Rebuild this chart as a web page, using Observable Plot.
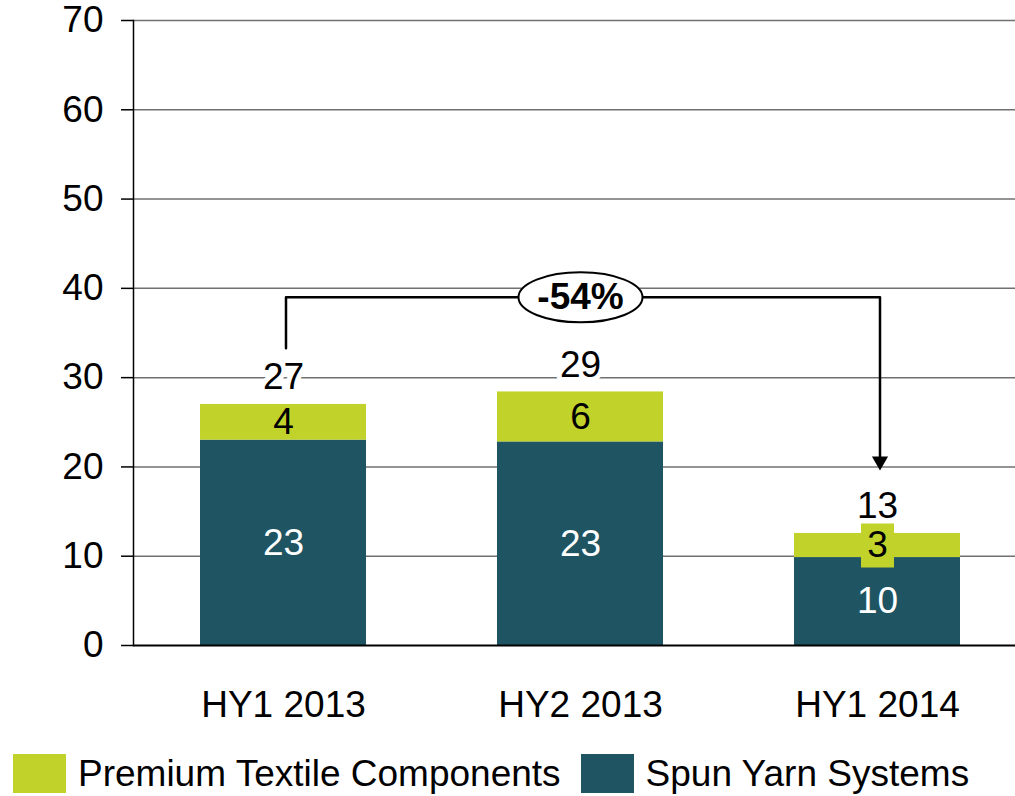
<!DOCTYPE html>
<html>
<head>
<meta charset="utf-8">
<script src="https://cdn.jsdelivr.net/npm/d3@7"></script>
<script src="https://cdn.jsdelivr.net/npm/@observablehq/plot@0.6"></script>
<style>
  html, body { margin: 0; padding: 0; background: #fff; }
  body { width: 1015px; height: 796px; overflow: hidden; font-family: "Liberation Sans", Arial, sans-serif; }
  #legend { display: flex; align-items: center; height: 39px; margin-top: 14px; padding-left: 13px; font-size: 37px; color: #000; }
  .sw { width: 53px; height: 39px; display: inline-block; margin-right: 12px; }
  .item { display: flex; align-items: center; margin-right: 20px; white-space: nowrap; }
</style>
</head>
<body>
<div id="chart"></div>
<div id="legend"></div>
<script>
// ---- data ----
const categories = ["HY1 2013", "HY2 2013", "HY1 2014"];
const spunValues = [23.0, 22.8, 9.85];
const premiumValues = [4.0, 5.6, 2.7];
const spunLabels = ["23", "23", "10"];
const premiumLabels = ["4", "6", "3"];
const totalLabels = ["27", "29", "13"];
const boxedPremium = ["HY1 2014"];           // premium label drawn on a box
const seriesNames = ["Premium Textile Components", "Spun Yarn Systems"];
const seriesColors = ["#c1d22b", "#1f5463"];
const yTicks = [0, 10, 20, 30, 40, 50, 60, 70];
// change annotation
const changeFrom = "HY1 2013", changeTo = "HY1 2014", changeAt = "HY2 2013";
const changeLabel = "-54%";
const bracketLevel = 39, bracketStart = 33.3, bracketEnd = 20.65;

// ---- tables ----
const table = [];
categories.forEach((c, i) => {
  table.push({cat: c, series: seriesNames[1], value: spunValues[i]});
  table.push({cat: c, series: seriesNames[0], value: premiumValues[i]});
});
const spunText = categories.map((c, i) => ({cat: c, y: spunValues[i] / 2, t: spunLabels[i]}));
const premText = categories.map((c, i) => ({cat: c, y: spunValues[i] + premiumValues[i] / 2, t: premiumLabels[i]}));
const totText = categories.map((c, i) => ({cat: c, y: spunValues[i] + premiumValues[i], t: totalLabels[i]}));
const boxes = premText.filter(d => boxedPremium.includes(d.cat));
const bracket = [
  {cat: changeFrom, y: bracketStart},
  {cat: changeFrom, y: bracketLevel},
  {cat: changeTo, y: bracketLevel},
  {cat: changeTo, y: bracketEnd}
];

// custom symbols
const K = 0.5523;
const ellipse = {draw(ctx) {
  const rx = 62, ry = 25;
  ctx.moveTo(rx, 0);
  ctx.bezierCurveTo(rx, ry * K, rx * K, ry, 0, ry);
  ctx.bezierCurveTo(-rx * K, ry, -rx, ry * K, -rx, 0);
  ctx.bezierCurveTo(-rx, -ry * K, -rx * K, -ry, 0, -ry);
  ctx.bezierCurveTo(rx * K, -ry, rx, -ry * K, rx, 0);
  ctx.closePath();
}};
const labelBox = {draw(ctx) {
  ctx.rect(-16.5, -22, 33, 44);
}};

const FS = 37;
const chart = Plot.plot({
  width: 1015,
  height: 740,
  marginTop: 20,
  marginBottom: 95,
  marginLeft: 133,
  marginRight: 0,
  style: {fontFamily: "'Liberation Sans', Arial, sans-serif", fontSize: FS + "px", color: "#000", background: "#fff"},
  x: {domain: categories, range: [133.5, 1025.7], paddingInner: 0.4418, paddingOuter: 0.2209, label: null},
  y: {domain: [0, 70], label: null},
  color: {domain: seriesNames, range: seriesColors},
  marks: [
    Plot.gridY(yTicks.filter(d => d > 0), {stroke: "#707070", strokeOpacity: 1, strokeWidth: 1.5}),
    Plot.barY(table, {x: "cat", y: "value", fill: "series", order: [seriesNames[1], seriesNames[0]]}),
    Plot.ruleY([0], {stroke: "#000", strokeWidth: 2}),
    Plot.frame({anchor: "left", stroke: "#000", strokeWidth: 1.5}),
    Plot.axisY({ticks: yTicks, tickSize: 12, tickPadding: 18, fontSize: FS, stroke: "#000", strokeWidth: 1.5, label: null}),
    Plot.axisX({tickSize: 0, tickPadding: 45, fontSize: FS, label: null}),
    Plot.text(totText, {x: "cat", y: "y", text: "t", fill: "#000", fontSize: FS, dy: -27, stroke: "#fff", strokeWidth: 10}),
    Plot.dot(boxes, {x: "cat", y: "y", symbol: labelBox, r: 5, fill: seriesColors[0], stroke: "none"}),
    Plot.text(spunText, {x: "cat", y: "y", text: "t", fill: "#fff", fontSize: FS}),
    Plot.text(premText, {x: "cat", y: "y", text: "t", fill: "#000", fontSize: FS}),
    Plot.line(bracket, {x: "cat", y: "y", stroke: "#000", strokeWidth: 2.5, dx: 2.5, curve: "linear"}),
    Plot.dot([bracket[3]], {x: "cat", y: "y", symbol: "triangle", r: 6, rotate: 180, fill: "#000", stroke: "none", dx: 2.5}),
    Plot.dot([{cat: changeAt, y: bracketLevel}], {x: "cat", y: "y", symbol: ellipse, r: 5, fill: "#fff", stroke: "#000", strokeWidth: 2}),
    Plot.text([{cat: changeAt, y: bracketLevel, t: changeLabel}], {x: "cat", y: "y", text: "t", fontSize: FS, fontWeight: "bold", fill: "#000"})
  ]
});
document.getElementById("chart").appendChild(chart);

// legend
const legend = document.getElementById("legend");
seriesNames.forEach((name, i) => {
  const item = document.createElement("div");
  item.className = "item";
  const sw = document.createElement("span");
  sw.className = "sw";
  sw.style.background = seriesColors[i];
  const lab = document.createElement("span");
  lab.textContent = name;
  item.appendChild(sw);
  item.appendChild(lab);
  legend.appendChild(item);
});
</script>
</body>
</html>
